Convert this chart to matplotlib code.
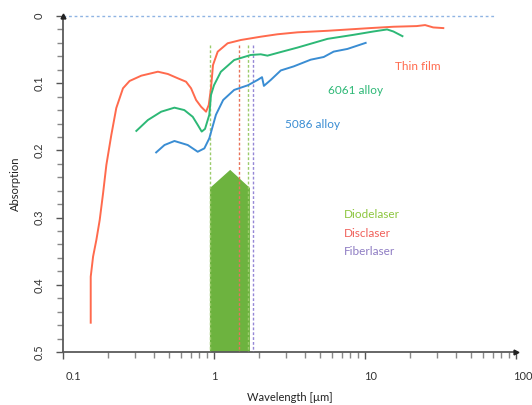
import numpy as np
import matplotlib
matplotlib.use("Agg")
import matplotlib.pyplot as plt
from matplotlib.ticker import FixedLocator, NullFormatter
from matplotlib.transforms import ScaledTranslation

# ---- data ----
thin_x = [0.1526, 0.1526, 0.1582, 0.1663, 0.175, 0.1842, 0.1937, 0.2089, 0.2254, 0.2496, 0.276,
          0.33, 0.425, 0.495, 0.576, 0.653, 0.705, 0.761, 0.821, 0.886, 0.923, 0.955, 0.985,
          1.058, 1.231, 1.507, 2.04, 2.63, 3.57, 5.65, 10.8, 15.4, 22, 25, 28.3, 33]
thin_y = [0.4564, 0.388, 0.358, 0.3333, 0.3036, 0.264, 0.2217, 0.1771, 0.1369, 0.1076, 0.0967,
          0.0888, 0.0829, 0.0863, 0.0927, 0.0978, 0.1076, 0.125, 0.135, 0.1424, 0.1324, 0.1076,
          0.0729, 0.0531, 0.0406, 0.0357, 0.0308, 0.0272, 0.0243, 0.022, 0.018, 0.016, 0.015,
          0.0135, 0.017, 0.018]

a6061_x = [0.306, 0.365, 0.447, 0.547, 0.636, 0.723, 0.78, 0.829, 0.872, 0.931, 0.955, 1.0,
           1.11, 1.36, 1.75, 2.04, 2.26, 2.77, 3.57, 5.65, 8.4, 11.4, 14, 15.4, 17.7]
a6061_y = [0.171, 0.1548, 0.1424, 0.1364, 0.14, 0.15, 0.162, 0.172, 0.168, 0.147, 0.1176, 0.103,
           0.083, 0.0655, 0.058, 0.057, 0.059, 0.0536, 0.047, 0.034, 0.028, 0.023, 0.02, 0.023,
           0.03]

a5086_x = [0.414, 0.47, 0.547, 0.67, 0.78, 0.863, 0.931, 1.03, 1.15, 1.36, 1.68, 1.95, 2.08,
           2.14, 2.38, 2.77, 3.37, 4.37, 5.33, 6.2, 7.65, 10.1]
a5086_y = [0.203, 0.192, 0.186, 0.192, 0.202, 0.197, 0.182, 0.147, 0.125, 0.11, 0.103, 0.095,
           0.091, 0.104, 0.095, 0.081, 0.075, 0.065, 0.061, 0.053, 0.049, 0.04]

band_x = [0.94, 0.94, 1.28, 1.73, 1.73]
band_y = [0.5, 0.256, 0.229, 0.256, 0.5]

laser_lines_x = [0.94, 1.46, 1.68, 1.81]
laser_lines_colors = ["#9BCB6B", "#E8735A", "#9BCB6B", "#9486D6"]
laser_line_top = 0.043

laser_names = ["Diodelaser", "Disclaser", "Fiberlaser"]
laser_name_colors = ["#8DC63F", "#F0605A", "#8E7CC3"]

series_labels = ["Thin film", "6061 alloy", "5086 alloy"]
series_colors = ["#FF6A4D", "#2DB876", "#3A8DD3"]

x_major = [0.1, 1, 10, 100]
x_major_labels = ["0.1", "1", "10", "100"]
y_major = [0, 0.1, 0.2, 0.3, 0.4, 0.5]
y_major_labels = ["0", "0.1", "0.2", "0.3", "0.4", "0.5"]

# ---- figure ----
plt.rcParams['font.family'] = ['Lato', 'DejaVu Sans']
fig = plt.figure(figsize=(5.32, 4.05), dpi=100)
ax = fig.add_axes([63/532, 1-352/405, (516-63)/532, (352-16)/405])
ax.set_xscale('log')
ax.set_xlim(0.1, 100)
ax.set_ylim(0.5, 0)

# dotted zero line
ax.plot([0.1, 71], [0, 0], linestyle=(0, (2, 2)), color="#8FB4E3", lw=1.0, clip_on=False)

# laser band
ax.fill(band_x, band_y, color="#6DB33F", lw=0, zorder=2)

# vertical laser lines
for xv, c in zip(laser_lines_x, laser_lines_colors):
    ax.plot([xv, xv], [laser_line_top, 0.5], color=c, lw=1.0, linestyle=(0, (2, 1.5)), zorder=3)

# curves
for xs, ys, c in zip([thin_x, a6061_x, a5086_x], [thin_y, a6061_y, a5086_y], series_colors):
    ax.plot(xs, ys, color=c, lw=1.4, zorder=4, solid_joinstyle='round')

# series labels
ax.text(10**((417-213)/151.5), (67-16)/672, series_labels[0], color=series_colors[0],
        fontsize=8.5, ha='center', va='center')
ax.text(10**((355-213)/151.5), (90-16)/672, series_labels[1], color=series_colors[1],
        fontsize=8.5, ha='center', va='center')
ax.text(10**((312-213)/151.5), (125-16)/672, series_labels[2], color=series_colors[2],
        fontsize=8.5, ha='center', va='center')

# laser names
for i, (nm, c) in enumerate(zip(laser_names, laser_name_colors)):
    ax.text(10**((343-213)/151.5), (215 + 18.5*i - 16)/672, nm, color=c,
            fontsize=8.5, ha='left', va='center')

# axes style
for s in ['top', 'right']:
    ax.spines[s].set_visible(False)
for s in ['left', 'bottom']:
    ax.spines[s].set_color('#5a5a5a')
    ax.spines[s].set_linewidth(1.3)

ax.xaxis.set_major_locator(FixedLocator(x_major))
ax.set_xticklabels(x_major_labels)
ax.xaxis.set_minor_locator(FixedLocator([m*d for d in [0.1, 1, 10] for m in range(2, 10)]))
ax.xaxis.set_minor_formatter(NullFormatter())
ax.yaxis.set_major_locator(FixedLocator(y_major))
ax.set_yticklabels(y_major_labels, rotation=90, va='center')
ax.yaxis.set_minor_locator(FixedLocator(np.arange(0, 0.5001, 0.02)))

ax.tick_params(axis='both', which='major', direction='out', length=5, width=1.0,
               color='#555555', labelsize=8, labelcolor='#333333')
ax.tick_params(axis='both', which='minor', direction='out', length=4, width=1.0,
               color='#888888')
ax.tick_params(axis='x', which='major', pad=9)
ax.tick_params(axis='y', which='major', pad=8)

# small horizontal offsets of x tick labels, as in the reference
offsets_px = [10, 0, 6, 7]
for lbl, off in zip(ax.get_xticklabels(), offsets_px):
    lbl.set_transform(lbl.get_transform() + ScaledTranslation(off/100, 0, fig.dpi_scale_trans))

ax.set_xlabel("Wavelength [µm]", fontsize=8, color='#222222', labelpad=7)
ax.set_ylabel("Absorption", fontsize=8, color='#222222', labelpad=9)

# axis arrow ends
ax.plot([0.1], [0], marker='^', color='#222222', markersize=3.5, clip_on=False, zorder=6)
ax.plot([100], [0.5], marker='>', color='#222222', markersize=3.5, clip_on=False, zorder=6)

fig.savefig("out.png", dpi=100)
